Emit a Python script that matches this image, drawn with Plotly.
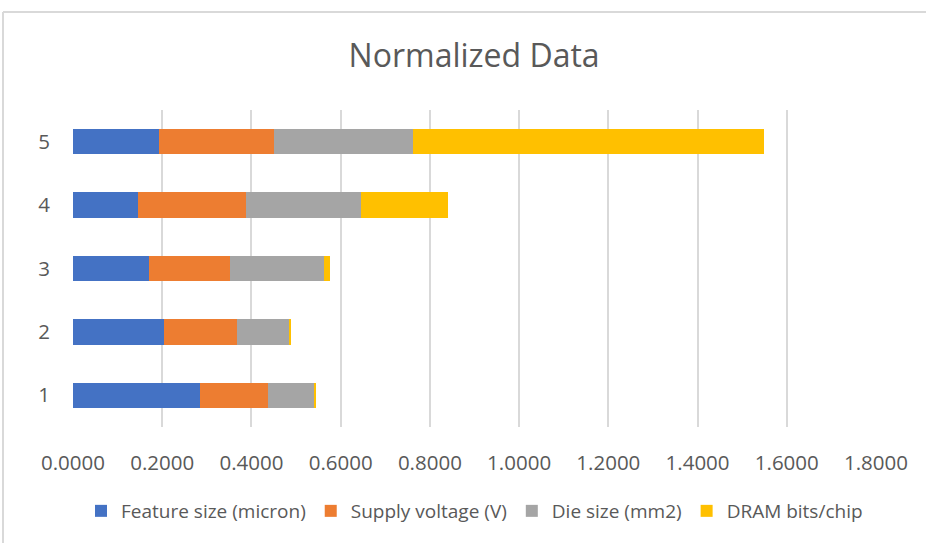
import plotly.graph_objects as go

categories = ["1", "2", "3", "4", "5"]
feature_size = [0.2836, 0.2045, 0.1694, 0.1463, 0.1926]
supply_voltage = [0.1545, 0.1635, 0.1814, 0.2418, 0.2589]
die_size = [0.1030, 0.1172, 0.2120, 0.2576, 0.3113]
dram_bits = [0.0031, 0.0045, 0.0128, 0.1955, 0.7855]

series_names = ["Feature size (micron)", "Supply voltage (V)", "Die size (mm2)", "DRAM bits/chip"]
series_values = [feature_size, supply_voltage, die_size, dram_bits]
series_colors = ["#4472C4", "#ED7D31", "#A5A5A5", "#FFC000"]

x_ticks = [0.0, 0.2, 0.4, 0.6, 0.8, 1.0, 1.2, 1.4, 1.6, 1.8]

TEXT = "#595959"
GRID = "#D9D9D9"
FONT = "Open Sans"

fig = go.Figure()
for name, vals, color in zip(series_names, series_values, series_colors):
    fig.add_trace(go.Bar(
        y=categories, x=vals, name=name, orientation="h",
        marker=dict(color=color, line=dict(width=0)),
    ))

W, H = 926, 543
ml, mr, mt, mb = 73, 50, 110, 116
pw, ph = W - ml - mr, H - mt - mb

def px_x(x):
    return (x - ml) / pw

def px_y(y):
    return 1 - (y - mt) / ph

fig.update_layout(
    width=W, height=H,
    margin=dict(l=ml, r=mr, t=mt, b=mb, pad=0, autoexpand=False),
    barmode="stack", bargap=0.6,
    plot_bgcolor="white", paper_bgcolor="white",
    font=dict(family=FONT, color=TEXT, size=19),
    title=dict(text="Normalized Data", x=0.512, xanchor="center", y=1 - 56 / H, yanchor="middle",
               font=dict(family=FONT, size=32, color=TEXT)),
    xaxis=dict(range=[0, 1.8], tickvals=x_ticks, ticktext=[f"{v:.4f}" for v in x_ticks],
               showgrid=True, gridcolor=GRID, gridwidth=1.5, zeroline=False,
               showline=False, ticks="", ticklabelstandoff=21,
               tickfont=dict(family=FONT, size=20.5, color=TEXT)),
    yaxis=dict(type="category", categoryorder="array", categoryarray=categories,
               range=[-0.5, 4.5], showgrid=False, zeroline=False, showline=False,
               ticks="", ticklabelstandoff=22,
               tickfont=dict(family=FONT, size=20.5, color=TEXT)),
    legend=dict(orientation="h", x=0.5, xanchor="center", y=px_y(511), yanchor="middle",
                font=dict(family=FONT, size=19, color=TEXT), traceorder="normal",
                itemwidth=30, bgcolor="rgba(0,0,0,0)"),
    shapes=[
        dict(type="line", xref="paper", yref="paper", x0=px_x(3), x1=px_x(940),
             y0=px_y(12), y1=px_y(12), line=dict(color=GRID, width=2)),
        dict(type="line", xref="paper", yref="paper", x0=px_x(3), x1=px_x(3),
             y0=px_y(12), y1=px_y(560), line=dict(color=GRID, width=2)),
    ],
)

fig.write_html("out.html")
